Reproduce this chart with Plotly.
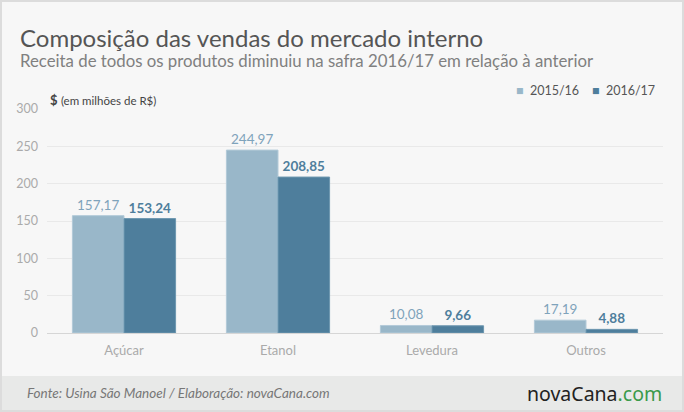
import plotly.graph_objects as go

categorias = ["Açúcar", "Etanol", "Levedura", "Outros"]
safra_2015 = [157.17, 244.97, 10.08, 17.19]
safra_2016 = [153.24, 208.85, 9.66, 4.88]
y_ticks = [0, 50, 100, 150, 200, 250, 300]

W, H = 684, 412
L, R, T, B = 47, 21, 109, 79
pw, ph = W - L - R, H - T - B

COR_2015 = "#99b7c9"
COR_2016 = "#4e7e9c"


def px(x):
    return (x - L) / pw


def py(y):
    return (H - B - y) / ph


fig = go.Figure()
fig.add_trace(go.Bar(
    x=categorias, y=safra_2015, name="2015/16", showlegend=False,
    marker=dict(color=COR_2015, line=dict(color="#b3cad8", width=1)),
    texttemplate="%{y:.2f}", textposition="outside", cliponaxis=False,
    textfont=dict(color="#7fa3bb", size=13.5, family="Lato"),
))
fig.add_trace(go.Bar(
    x=categorias, y=safra_2016, name="2016/17", showlegend=False,
    marker=dict(color=COR_2016, line=dict(color="#6d97b0", width=1)),
    texttemplate="<b>%{y:.2f}</b>", textposition="outside", cliponaxis=False,
    textfont=dict(color=COR_2016, size=13.5, family="Lato"),
))

# legenda feita à mão, com quadradinhos pequenos como no original
legenda = (f"<span style='color:{COR_2015}'>■</span>&nbsp;&nbsp;2015/16&nbsp;&nbsp;&nbsp;&nbsp;"
           f"<span style='color:{COR_2016}'>■</span>&nbsp;&nbsp;2016/17")

fig.update_layout(
    width=W, height=H,
    margin=dict(l=L, r=R, t=T, b=B),
    paper_bgcolor="#f7f7f7", plot_bgcolor="#f7f7f7",
    separators=",.",
    barmode="group", bargap=0.33, bargroupgap=0,
    font=dict(family="Lato", color="#999"),
    xaxis=dict(showgrid=False, showline=False, ticks="",
               tickfont=dict(size=13, color="#aaa"), ticklabelstandoff=8),
    yaxis=dict(range=[0, 300], tickvals=y_ticks, showgrid=True, gridcolor="#e9e9e9",
               zeroline=True, zerolinecolor="#d6d6d6", zerolinewidth=1,
               tickfont=dict(size=12.5, color="#aaa"), ticklabelstandoff=8),
    shapes=[
        dict(type="rect", xref="paper", yref="paper", x0=px(0), x1=px(W), y0=py(376), y1=py(H),
             fillcolor="#e8e9e8", line=dict(width=0), layer="below"),
        dict(type="rect", xref="paper", yref="paper", x0=px(1), x1=px(W - 1), y0=py(1), y1=py(H - 1),
             fillcolor="rgba(0,0,0,0)", line=dict(color="#dcdcdc", width=2)),
    ],
    annotations=[
        dict(text="Composição das vendas do mercado interno", x=px(18), y=py(37),
             xref="paper", yref="paper", xanchor="left", yanchor="middle", showarrow=False,
             font=dict(size=24, color="#555", family="Lato")),
        dict(text="Receita de todos os produtos diminuiu na safra 2016/17 em relação à anterior",
             x=px(18), y=py(60), xref="paper", yref="paper", xanchor="left", yanchor="middle",
             showarrow=False, font=dict(size=16.8, color="#808080", family="Lato")),
        dict(text="<b>$</b> <span style='font-size:11.5px'>(em milhões de R$)</span>",
             x=px(48), y=py(100), xref="paper", yref="paper", xanchor="left", yanchor="middle",
             showarrow=False, font=dict(size=13, color="#444", family="Lato")),
        dict(text=legenda, x=px(657), y=py(90), xref="paper", yref="paper",
             xanchor="right", yanchor="middle", showarrow=False,
             font=dict(size=12.5, color="#555", family="Lato")),
        dict(text="<i>Fonte: Usina São Manoel / Elaboração: novaCana.com</i>",
             x=px(25), y=py(393), xref="paper", yref="paper", xanchor="left", yanchor="middle",
             showarrow=False, font=dict(size=13.5, color="#777", family="Lato")),
        dict(text="novaCana<span style='color:#3a9a4a'>.com</span>",
             x=px(664), y=py(393), xref="paper", yref="paper", xanchor="right", yanchor="middle",
             showarrow=False, font=dict(size=19.5, color="#222", family="Noto Sans")),
    ],
)

fig.write_html("out.html", config={"displayModeBar": False},
               post_script="document.body.style.margin='0px';")
